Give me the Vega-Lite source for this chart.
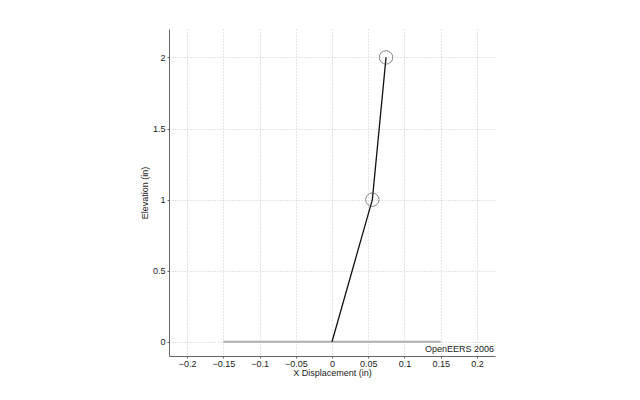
{
  "$schema": "https://vega.github.io/schema/vega-lite/v6.json",
  "width": 326,
  "height": 327,
  "autosize": "none",
  "padding": {"left": 169, "top": 29, "right": 145, "bottom": 44},
  "background": "white",
  "config": {
    "view": {"stroke": null},
    "font": "Liberation Sans",
    "axis": {
      "labelFont": "Liberation Sans",
      "titleFont": "Liberation Sans",
      "labelFontSize": 9,
      "titleFontSize": 9,
      "titleFontWeight": "normal",
      "labelColor": "#222",
      "titleColor": "#222",
      "domainColor": "#666",
      "tickColor": "#666",
      "tickSize": 2,
      "gridColor": "#c8c8c8",
      "gridDash": [1, 2],
      "gridWidth": 1
    }
  },
  "datasets": {
    "ground": [{"x": -0.15, "y": 0}, {"x": 0.15, "y": 0}],
    "frame": [{"x": 0, "y": 0, "o": 0}, {"x": 0.0557, "y": 1, "o": 1}, {"x": 0.0746, "y": 2, "o": 2}],
    "nodes": [{"x": 0.0557, "y": 1}, {"x": 0.0746, "y": 2}],
    "label": [{"x": 0.225, "y": -0.05, "t": "OpenEERS 2006"}]
  },
  "layer": [
    {
      "data": {"name": "ground"},
      "mark": {"type": "line", "color": "#b0b0b0", "strokeWidth": 2},
      "encoding": {
        "x": {"field": "x", "type": "quantitative", "scale": {"domain": [-0.225, 0.225], "nice": false, "zero": false},
          "axis": {"values": [-0.2, -0.15, -0.1, -0.05, 0, 0.05, 0.1, 0.15, 0.2], "format": "~g", "grid": true, "title": "X Displacement (in)", "titlePadding": 0, "labelPadding": 1}},
        "y": {"field": "y", "type": "quantitative", "scale": {"domain": [-0.1, 2.2], "nice": false, "zero": false},
          "axis": {"values": [0, 0.5, 1, 1.5, 2], "format": "~g", "grid": true, "title": "Elevation (in)", "titlePadding": 3, "labelPadding": 2}}
      }
    },
    {
      "data": {"name": "frame"},
      "mark": {"type": "line", "color": "#111111", "strokeWidth": 1.3},
      "encoding": {
        "x": {"field": "x", "type": "quantitative"},
        "y": {"field": "y", "type": "quantitative"},
        "order": {"field": "o"}
      }
    },
    {
      "data": {"name": "nodes"},
      "mark": {"type": "point", "shape": "circle", "filled": false, "size": 180, "color": "#555555", "strokeWidth": 1},
      "encoding": {
        "x": {"field": "x", "type": "quantitative"},
        "y": {"field": "y", "type": "quantitative"}
      }
    },
    {
      "data": {"name": "label"},
      "mark": {"type": "text", "align": "right", "baseline": "middle", "fontSize": 9, "color": "#222", "dx": -1},
      "encoding": {
        "x": {"field": "x", "type": "quantitative"},
        "y": {"field": "y", "type": "quantitative"},
        "text": {"field": "t"}
      }
    }
  ]
}
